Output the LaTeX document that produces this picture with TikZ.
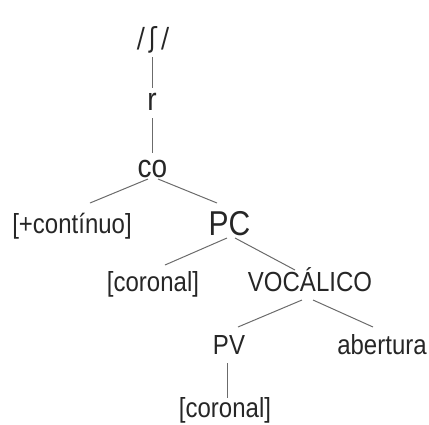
\documentclass[tikz,border=0pt]{standalone}
\usepackage{fontspec}
\setmainfont{Liberation Sans}
\newfontfamily\ipafont{DejaVu Sans}
\usetikzlibrary{calc}
\tikzset{
	feat/.style={inner sep=0pt, anchor=base, yscale=1.15, text=black!85, font=\fontsize{24}{28}\selectfont},
	bigfeat/.style={feat, font=\fontsize{28}{32}\selectfont},
	edge/.style={line width=1pt, color=black!58}
}

\begin{document}
\begin{tikzpicture}[x=1pt, y=1pt]
		%%%%% FRAME %%%%%
		\useasboundingbox (0, 0) rectangle (429, -424);
		
		\node[feat] (shw) at (153, -47) {\ipafont /\,ʃ\,/};
		\node[bigfeat] (r) at (152, -110) {r};
		\node[bigfeat] (co) at (152.5, -177) {co};
		
		\node[feat] (cont) at (72, -233) {[+contínuo]};
		\node[feat, font=\fontsize{30}{34}\selectfont] (pc) at (229.5, -235) {PC};
		
		\node[feat] (cor) at (153, -291) {[coronal]};
		\node[feat] (voc) at (310, -291) {VOCÁLICO};
		
		\node[feat] (pv) at (229, -354) {PV};
		\node[feat] (abert) at (382, -354) {abertura};
		
		\node[feat] (corb) at (225, -417) {[coronal]};
		
		%%%%% LINES %%%%%
		\draw[edge] ($(shw.base)+(-1, -10)$) -- ($(r.base)+(0, 22)$);
		\draw[edge] ($(r.base)+(0, -8)$) -- ($(co.base)+(-0.5, 24)$);
		
		\draw[edge] ($(co.base)+(-4.5, -2)$) -- ($(cont.base)+(18, 30)$);
		\draw[edge] ($(co.base)+(5.5, -2)$) -- ($(pc.base)+(-12.5, 32)$);
		
		\draw[edge] ($(pc.base)+(-2.5, -3)$) -- ($(cor.base)+(12, 26)$);
		\draw[edge] ($(pc.base)+(5.5, -3)$) -- ($(voc.base)+(-15, 21)$);
		
		\draw[edge] ($(voc.base)+(-8, -9)$) -- ($(pv.base)+(9, 27)$);
		\draw[edge] ($(voc.base)+(3, -9)$) -- ($(abert.base)+(-9, 27)$);
		
		\draw[edge] ($(pv.base)+(-2, -9)$) -- ($(corb.base)+(2, 19)$);
		%%%%% END %%%%%
	\end{tikzpicture}
\end{document}
